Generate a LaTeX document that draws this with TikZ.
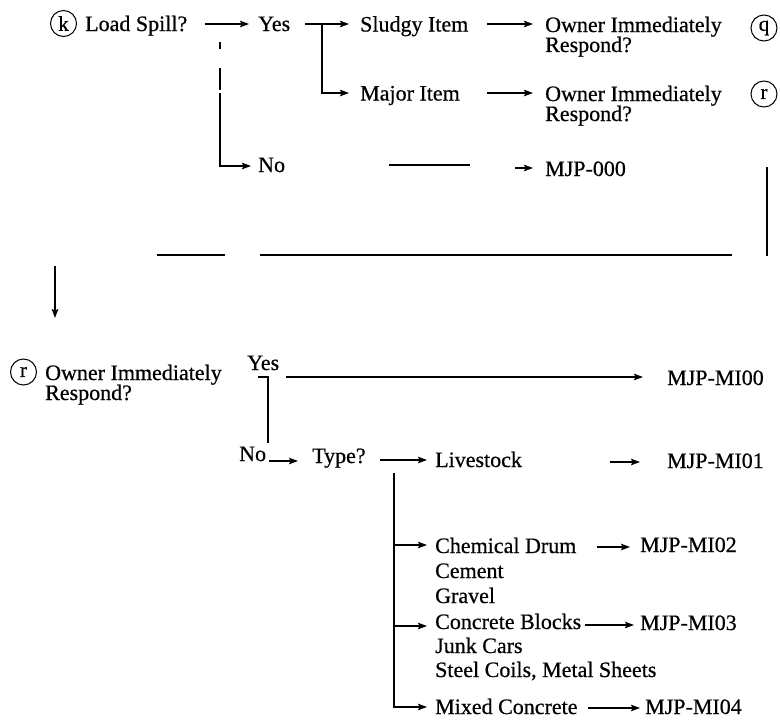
\documentclass[tikz,border=0pt]{standalone}
\usepackage{fontspec}
\setmainfont{Liberation Serif}[FakeBold=0.6]
\usetikzlibrary{arrows.meta}
\begin{document}
\begin{tikzpicture}[x=1pt,y=-1pt,
  lbl/.style={anchor=base west, inner sep=0pt, font=\fontsize{22}{24}\selectfont},
  link/.style={line width=1.1pt},
  arr/.style={link,-{Stealth[length=9pt,width=6.5pt,inset=1.5pt]}},
  tag/.style={circle, draw, line width=1pt, minimum size=26pt, inner sep=0pt,
              font=\fontsize{21}{22}\selectfont}]
\useasboundingbox (0,0) rectangle (780,720);

% ---------- upper chart: load spill ----------
\node[tag] (tk) at (63.5,23.5) {k};
\node[lbl] (ls) at (85,31) {Load Spill?};
\node[lbl] (yes1) at (258,31) {Yes};
\node[lbl] (sludgy) at (360,31.5) {Sludgy Item};
\node[lbl] (major) at (360,100.5) {Major Item};
\node[lbl] (own1) at (545,32) {Owner Immediately};
\node[lbl] (resp1) at (545,52) {Respond?};
\node[tag] (tq) at (764,28) {q};
\node[lbl] (own2) at (545,101) {Owner Immediately};
\node[lbl] (resp2) at (545,121) {Respond?};
\node[tag] (tr1) at (764,94) {r};
\node[lbl] (no1) at (258,172) {No};
\node[lbl] (mjp000) at (545,176) {MJP-000};

\coordinate (lsout) at (205,24);
\coordinate (yesin) at (249,24);
\coordinate (yesout) at (305,24);
\coordinate (yesfork) at (322,24);
\coordinate (sludgyin) at (349,24);
\coordinate (majorin) at (349,93);
\coordinate (sludgyout) at (487,24);
\coordinate (own1in) at (533,24);
\coordinate (majorout) at (487,93);
\coordinate (own2in) at (533,93);
\coordinate (lsdown) at (220,42);
\coordinate (noin) at (251,166);
\coordinate (noout) at (389,165);
\coordinate (nomid) at (470,165);
\coordinate (mjpfrom) at (515,168);
\coordinate (mjpin) at (533,168);

\draw[arr] (lsout) -- (yesin);
\draw[link] (yesout) -- (yesfork);
\draw[arr] (yesfork) -- (sludgyin);
\draw[arr] (yesfork) |- (majorin);
\draw[arr] (sludgyout) -- (own1in);
\draw[arr] (majorout) -- (own2in);
\draw[arr, dash pattern=on 7pt off 19pt on 22pt off 3pt on 300pt] (lsdown) |- (noin);
\draw[link] (noout) -- (nomid);
\draw[arr] (mjpfrom) -- (mjpin);

% ---------- page connector from (r) ----------
\coordinate (rdown) at (767,167);
\coordinate (rcorner) at (767,256);
\coordinate (hA) at (732,255);
\coordinate (hB) at (260,255);
\coordinate (hC) at (225,255);
\coordinate (hD) at (157,255);
\coordinate (vtop) at (55,266);
\coordinate (vend) at (55,318);
\draw[link] (rdown) -- (rcorner);
\draw[link] (hA) -- (hB);
\draw[link] (hC) -- (hD);
\draw[arr] (vtop) -- (vend);

% ---------- lower chart: owner response ----------
\node[tag] (tr2) at (23.5,372) {r};
\node[lbl] (own3) at (45,380) {Owner Immediately};
\node[lbl] (resp3) at (45,400) {Respond?};
\node[lbl] (yes2) at (247,370) {Yes};
\node[lbl] (no2) at (239,461) {No};
\node[lbl] (type) at (312,463) {Type?};
\node[lbl] (live) at (435,467) {Livestock};
\node[lbl] (mi00) at (667,385) {MJP-MI00};
\node[lbl] (mi01) at (667,468) {MJP-MI01};
\node[lbl] (chem) at (435,553) {Chemical Drum};
\node[lbl] (cement) at (435,578) {Cement};
\node[lbl] (gravel) at (435,603) {Gravel};
\node[lbl] (mi02) at (640,552) {MJP-MI02};
\node[lbl] (blocks) at (435,629) {Concrete Blocks};
\node[lbl] (junk) at (435,653) {Junk Cars};
\node[lbl] (steel) at (435,677) {Steel Coils, Metal Sheets};
\node[lbl] (mi03) at (640,630) {MJP-MI03};
\node[lbl] (mixed) at (435,714) {Mixed Concrete};
\node[lbl] (mi04) at (645,714) {MJP-MI04};

\coordinate (yesstub) at (258,377);
\coordinate (yesjoin) at (268,377);
\coordinate (nojoin) at (268,443);
\coordinate (yes2out) at (286,377);
\coordinate (mi00in) at (643,377);
\coordinate (no2out) at (269,461);
\coordinate (typein) at (298,461);
\coordinate (typeout) at (380,460);
\coordinate (livein) at (427,460);
\coordinate (liveout) at (610,462);
\coordinate (mi01in) at (640,462);
\coordinate (typedown) at (394,473);
\coordinate (mixedin) at (427,707);
\coordinate (chemfork) at (394,545);
\coordinate (chemin) at (427,545);
\coordinate (blocksfork) at (394,626);
\coordinate (blocksin) at (427,626);
\coordinate (chemout) at (597,547);
\coordinate (mi02in) at (630,547);
\coordinate (blocksout) at (585,625);
\coordinate (mi03in) at (634,625);
\coordinate (mixedout) at (588,708);
\coordinate (mi04in) at (640,708);

\draw[link] (yesstub) -- (yesjoin) -- (nojoin);
\draw[arr] (yes2out) -- (mi00in);
\draw[arr] (no2out) -- (typein);
\draw[arr] (typeout) -- (livein);
\draw[arr] (liveout) -- (mi01in);
\draw[arr] (typedown) |- (mixedin);
\draw[arr] (chemfork) -- (chemin);
\draw[arr] (blocksfork) -- (blocksin);
\draw[arr] (chemout) -- (mi02in);
\draw[arr] (blocksout) -- (mi03in);
\draw[arr] (mixedout) -- (mi04in);
\end{tikzpicture}
\end{document}
